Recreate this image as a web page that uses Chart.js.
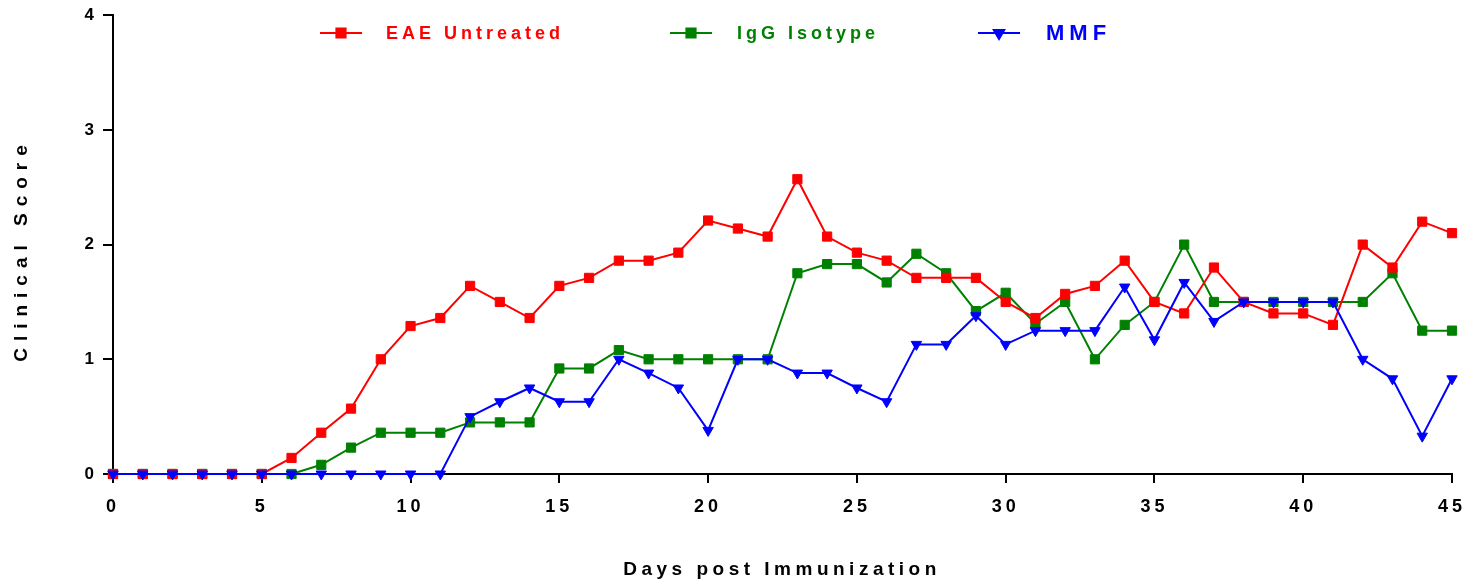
<!DOCTYPE html>
<html>
<head>
<meta charset="utf-8">
<script src="https://cdn.jsdelivr.net/npm/chart.js@4/dist/chart.umd.min.js"></script>
<style>
  html, body { margin: 0; padding: 0; background: #fff; }
  #wrap { width: 1478px; height: 587px; position: relative; }
</style>
</head>
<body>
<div id="wrap"><canvas id="chart"></canvas></div>
<script>
const days = [0,1,2,3,4,5,6,7,8,9,10,11,12,13,14,15,16,17,18,19,20,21,22,23,24,25,26,27,28,29,30,31,32,33,34,35,36,37,38,39,40,41,42,43,44,45]

const eaeUntreated = [0,0,0,0,0,0,0.14,0.36,0.57,1.0,1.29,1.36,1.64,1.5,1.36,1.64,1.71,1.86,1.86,1.93,2.21,2.14,2.07,2.57,2.07,1.93,1.86,1.71,1.71,1.71,1.5,1.36,1.57,1.64,1.86,1.5,1.4,1.8,1.5,1.4,1.4,1.3,2.0,1.8,2.2,2.1]
const iggIsotype   = [0,0,0,0,0,0,0,0.08,0.23,0.36,0.36,0.36,0.45,0.45,0.45,0.92,0.92,1.08,1.0,1.0,1.0,1.0,1.0,1.75,1.83,1.83,1.67,1.92,1.75,1.42,1.58,1.31,1.5,1.0,1.3,1.5,2.0,1.5,1.5,1.5,1.5,1.5,1.5,1.75,1.25,1.25]
const mmf          = [0,0,0,0,0,0,0,0,0,0,0,0,0.5,0.63,0.75,0.63,0.63,1.0,0.88,0.75,0.38,1.0,1.0,0.88,0.88,0.75,0.63,1.13,1.13,1.38,1.13,1.25,1.25,1.25,1.63,1.17,1.67,1.33,1.5,1.5,1.5,1.5,1.0,0.83,0.33,0.83]

const seriesNames = ['EAE Untreated', 'IgG Isotype', 'MMF']
const xTicks = [0, 5, 10, 15, 20, 25, 30, 35, 40, 45]
const yTicks = [0, 1, 2, 3, 4]

const FONT = 'Arial, "Liberation Sans", sans-serif'

function toPoints(vals) {
  return days.map((d, i) => ({ x: d, y: vals[i] }))
}

function makeSet(label, vals, color, style, order) {
  return {
    label,
    data: toPoints(vals),
    borderColor: color,
    backgroundColor: color,
    borderWidth: 2,
    pointStyle: style,
    pointRadius: style === 'triangle' ? 6 : 6.5,
    pointRotation: style === 'triangle' ? 180 : 0,
    pointBorderWidth: 1,
    pointHoverRadius: 6,
    tension: 0,
    clip: false,
    order,
  }
}

// legend + axis titles drawn on the canvas, letter-spaced like the original
const decorPlugin = {
  id: 'decor',
  beforeDraw(chart) {
    chart.ctx.letterSpacing = '4px'
  },
  afterDraw(chart) {
    const ctx = chart.ctx
    ctx.save()

    const items = [
      { x: 320, color: '#ff0000', style: 'rect', font: 'bold 18px ' + FONT, sp: '4px', tx: 386 },
      { x: 670, color: '#008000', style: 'rect', font: 'bold 18px ' + FONT, sp: '4px', tx: 737 },
      { x: 978, color: '#0000ff', style: 'triangle', font: 'bold 22px ' + FONT, sp: '5px', tx: 1046 },
    ]
    const ly = 33
    items.forEach((it, i) => {
      ctx.strokeStyle = it.color
      ctx.lineWidth = 2
      ctx.beginPath()
      ctx.moveTo(it.x, ly)
      ctx.lineTo(it.x + 42, ly)
      ctx.stroke()
      ctx.fillStyle = it.color
      Chart.helpers.drawPoint(ctx, {
        pointStyle: it.style,
        radius: it.style === 'triangle' ? 6 : 6.5,
        rotation: it.style === 'triangle' ? 180 : 0,
        borderWidth: 1,
      }, it.x + 21, ly)
      ctx.font = it.font
      ctx.letterSpacing = it.sp
      ctx.textAlign = 'left'
      ctx.textBaseline = 'middle'
      ctx.fillText(seriesNames[i], it.tx, ly + 1)
    })

    // axis titles
    ctx.fillStyle = '#000'
    ctx.font = 'bold 19px ' + FONT
    ctx.letterSpacing = '4.5px'
    ctx.textAlign = 'center'
    ctx.textBaseline = 'middle'
    ctx.fillText('Days post Immunization', 782, 570)

    ctx.translate(22, 253)
    ctx.rotate(-Math.PI / 2)
    ctx.letterSpacing = '7px'
    ctx.fillText('Clinical Score', 3, 0)
    ctx.restore()
  },
}

new Chart(document.getElementById('chart'), {
  type: 'line',
  data: {
    datasets: [
      makeSet(seriesNames[0], eaeUntreated, '#ff0000', 'rect', 2),
      makeSet(seriesNames[1], iggIsotype, '#008000', 'rect', 3),
      makeSet(seriesNames[2], mmf, '#0000ff', 'triangle', 1),
    ],
  },
  options: {
    responsive: true,
    maintainAspectRatio: false,
    animation: false,
    layout: { padding: { top: 15, right: 26, left: 0, bottom: 0 } },
    plugins: { legend: { display: false }, tooltip: { enabled: false } },
    scales: {
      x: {
        type: 'linear',
        min: 0,
        max: 45,
        afterBuildTicks: s => { s.ticks = xTicks.map(v => ({ value: v })) },
        afterFit: s => { s.height = 113 },
        border: { display: true, color: '#000', width: 2 },
        grid: { display: true, drawOnChartArea: false, drawTicks: true, tickLength: 9, color: '#000', lineWidth: 2 },
        ticks: { color: '#000', padding: 13, maxRotation: 0, autoSkip: false, font: { family: FONT, size: 18, weight: 'bold' } },
      },
      y: {
        min: 0,
        max: 4,
        afterBuildTicks: s => { s.ticks = yTicks.map(v => ({ value: v })) },
        afterFit: s => { s.width = 113 },
        border: { display: true, color: '#000', width: 2 },
        grid: { display: true, drawOnChartArea: false, drawTicks: true, tickLength: 10, color: '#000', lineWidth: 2 },
        ticks: { color: '#000', padding: 5, font: { family: FONT, size: 17, weight: 'bold' } },
      },
    },
  },
  plugins: [decorPlugin],
})
</script>
</body>
</html>
